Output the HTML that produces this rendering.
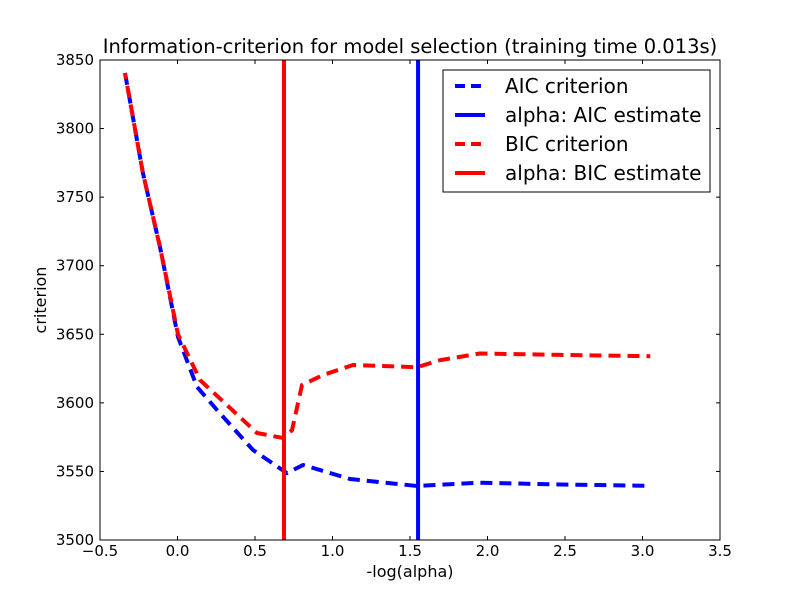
<!DOCTYPE html>
<html><head><meta charset="utf-8"><style>body{margin:0;background:#fff}svg{display:block}text{font-family:"DejaVu Sans","Liberation Sans",sans-serif}</style></head>
<body>
<svg id="chart" width="800" height="600" xmlns="http://www.w3.org/2000/svg">
<rect width="800" height="600" fill="#fff"/>
<g id="plot"></g>
</svg>
<script>
const xTicks=[-0.5,0,0.5,1,1.5,2,2.5,3,3.5];
const xTickLabels=["\u22120.5","0.0","0.5","1.0","1.5","2.0","2.5","3.0","3.5"];
const yTicks=[3500,3550,3600,3650,3700,3750,3800,3850];
const aicX=[-0.339,-0.223,-0.113,0.003,0.126,0.255,0.487,0.706,0.81,1.113,1.545,1.952,2.47,3.05];
const aicY=[3840.5,3767.6,3713.6,3648,3611.6,3594.8,3565.6,3548.8,3554.7,3544.5,3539.4,3541.8,3540.5,3539.5];
const bicX=[-0.339,-0.223,-0.113,0.003,0.145,0.513,0.681,0.739,0.803,0.939,1.132,1.545,1.69,1.95,2.47,3.05];
const bicY=[3840.5,3767.6,3713.6,3650,3616.7,3578,3574.4,3580,3613,3620.3,3627.6,3626,3631,3636,3635,3634];
const aicAlpha=[1.552];
const bicAlpha=[0.687];
const L=100,R=720,T=60,B=540,x0=-0.5,x1=3.5,y0=3500,y1=3850;
const sx=v=>L+(v-x0)/(x1-x0)*(R-L);
const sy=v=>B-(v-y0)/(y1-y0)*(B-T);
const NS="http://www.w3.org/2000/svg";
const g=document.getElementById('plot');
function mk(t,a,p){const e=document.createElementNS(NS,t);for(const k in a)e.setAttribute(k,a[k]);(p||g).appendChild(e);return e;}
function txt(s,a){const e=mk('text',a);e.textContent=s;return e;}
const clip=mk('clipPath',{id:'c'});mk('rect',{x:L,y:T,width:R-L,height:B-T},clip);
function path(xs,ys){return xs.map((x,i)=>(i?'L':'M')+sx(x).toFixed(1)+' '+sy(ys[i]).toFixed(1)).join(' ');}
let e;
e=mk('path',{d:path(aicX,aicY),fill:'none',stroke:'#0000ff','stroke-width':4,'stroke-dasharray':'12,7','clip-path':'url(#c)'});


e=mk('path',{d:path(bicX,bicY),fill:'none',stroke:'#ff0000','stroke-width':4,'stroke-dasharray':'12,7','stroke-dashoffset':6,'clip-path':'url(#c)'});


e=mk('line',{x1:sx(aicAlpha[0]),x2:sx(aicAlpha[0]),y1:T,y2:B,stroke:'#0000ff','stroke-width':4});


e=mk('line',{x1:sx(bicAlpha[0]),x2:sx(bicAlpha[0]),y1:T,y2:B,stroke:'#ff0000','stroke-width':4});


e=mk('rect',{x:L,y:T,width:R-L,height:B-T,fill:'none',stroke:'#000','stroke-width':1});


xTicks.forEach((v,i)=>{const x=sx(v);
mk('line',{x1:x,x2:x,y1:B,y2:B-4,stroke:'#000'});mk('line',{x1:x,x2:x,y1:T,y2:T+4,stroke:'#000'});
const t=txt(xTickLabels[i],{x:x,y:B+16,'font-size':15,'text-anchor':'middle'});

});
yTicks.forEach(v=>{const y=sy(v);
mk('line',{x1:L,x2:L+4,y1:y,y2:y,stroke:'#000'});mk('line',{x1:R,x2:R-4,y1:y,y2:y,stroke:'#000'});
const t=txt(String(v),{x:L-6,y:y+5,'font-size':15,'text-anchor':'end'});

});
e=txt('Information-criterion for model selection (training time 0.013s)',{x:410,y:53,'font-size':19.5,'text-anchor':'middle'});


e=txt('-log(alpha)',{x:410,y:577,'font-size':16,'text-anchor':'middle'});


e=txt('criterion',{x:0,y:0,'font-size':16,'text-anchor':'middle',transform:'translate(46,300) rotate(-90)'});


const lg=mk('g',{});


mk('rect',{x:443,y:70,width:267,height:122,fill:'#fff',stroke:'#000'},lg);
const items=[['AIC criterion','#0000ff',true],['alpha: AIC estimate','#0000ff',false],['BIC criterion','#ff0000',true],['alpha: BIC estimate','#ff0000',false]];
items.forEach((it,i)=>{const y=86+i*29;
const ent=mk('g',{},lg);


const a={x1:455,x2:485,y1:y,y2:y,stroke:it[1],'stroke-width':4};if(it[2])a['stroke-dasharray']='10,6';
mk('line',a,ent);
const t=mk('text',{x:505,y:y+7,'font-size':20,textLength:it[0].length>14?197:null},ent);t.removeAttribute('textLength');t.textContent=it[0];});
</script>
</body></html>
